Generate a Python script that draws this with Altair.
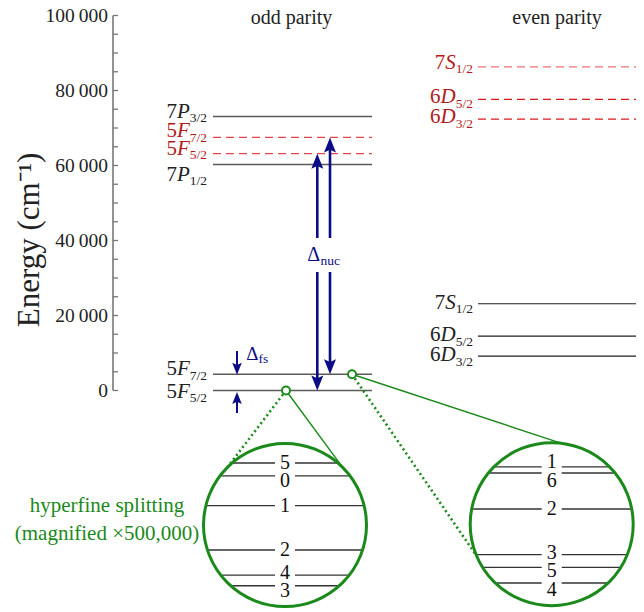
import math
import altair as alt
import pandas as pd

# ---------------- data (energies in cm^-1) ----------------
odd_terms = ["5F5/2", "5F7/2", "7P1/2", "7P3/2"]
odd_energy = [0, 4325, 60239, 73056]
even_terms = ["6D3/2", "6D5/2", "7S1/2"]
even_energy = [9193, 14486, 23131]
iso_odd_terms = ["5F5/2", "5F7/2"]
iso_odd_energy = [63150, 67475]
iso_even_terms = ["6D3/2", "6D5/2", "7S1/2"]
iso_even_energy = [72343, 77636, 86281]

tick_values = [i * 5000 for i in range(21)]
label_values = [0, 20000, 40000, 60000, 80000, 100000]
label_texts = ["0", "20\u2009000", "40\u2009000", "60\u2009000", "80\u2009000", "100\u2009000"]

# hyperfine sublevels: F quantum number and shift (MHz), drawn magnified x500,000
hf_low_F = ["5", "0", "1", "2", "4", "3"]
hf_low_MHz = [991, 784, 309, -400, -800, -971]
hf_up_F = ["1", "6", "2", "3", "5", "4"]
hf_up_MHz = [915, 819, 243, -488, -691, -940]
MAGNIFY = 500000
MHZ_PER_CM = 29979.2458

# ---------------- layout / style ----------------
PADTOP = 6
TOP = 8 + PADTOP
W, H = 628, 594
XDOM = [8, 636]
PX = 0.00375                               # px per cm^-1
YDOM = [(390.5 - TOP - H) / PX, (390.5 - TOP) / PX]


def v_at(py):
    return YDOM[1] - (py - TOP) / PX


def dpx(px):
    return px / PX


FONT = "Liberation Serif"
NAVY = "#0c0c86"
GREEN = "#1b8a1b"
ISO_LABEL = "#b31b1b"
FS, SUB = 21, 13.5

ODD_X = (213, 372, 207)     # line start, line end, label right edge
EVEN_X = (478, 636, 473)

xs = alt.Scale(domain=XDOM, nice=False, zero=False)
ys = alt.Scale(domain=YDOM, nice=False, zero=False)


def X(f):
    return alt.X(f, type="quantitative", scale=xs, axis=None)


def Y(f):
    return alt.Y(f, type="quantitative", scale=ys, axis=None)


def rules(df, **props):
    enc = dict(x=X("x"), y=Y("y"), color=alt.Color("c:N", scale=None))
    if "x2" in df:
        enc["x2"] = alt.X2("x2")
    if "y2" in df:
        enc["y2"] = alt.Y2("y2")
    return alt.Chart(df).mark_rule(**props).encode(**enc)


def texts(df, **props):
    return alt.Chart(df).mark_text(font=FONT, **props).encode(
        x=X("x"), y=Y("y"), text="t:N",
        color=alt.Color("c:N", scale=None),
        size=alt.Size("s:Q", scale=None))


layers = []

# ---- energy axis drawn from tick values ----
AX = 113
layers.append(rules(pd.DataFrame({"x": [AX], "y": [0], "y2": [100000], "c": ["#777777"]}), strokeWidth=1.6))
layers.append(rules(pd.DataFrame({"x": [AX] * len(tick_values), "x2": [AX + 5] * len(tick_values),
                                  "y": tick_values, "c": ["#777777"] * len(tick_values)}), strokeWidth=1.3))
layers.append(texts(pd.DataFrame({"x": [AX - 5] * 6, "y": label_values, "t": label_texts,
                                  "c": ["#222222"] * 6, "s": [19.5] * 6}), align="right", baseline="middle"))
layers.append(texts(pd.DataFrame({"x": [30], "y": [v_at(240)], "t": ["Energy  (cm\u207b\u00b9)"],
                                  "c": ["#222222"], "s": [31]}), align="center", baseline="middle", angle=270))
layers.append(texts(pd.DataFrame({"x": [291.5, 557], "y": [v_at(23.5)] * 2, "t": ["odd parity", "even parity"],
                                  "c": ["#222222"] * 2, "s": [20] * 2}), align="center", baseline="alphabetic"))

# ---- level lines ----
lv_solid = [{"x": ODD_X[0], "x2": ODD_X[1], "y": e, "c": "#5a5a5a"} for e in odd_energy]
layers.append(rules(pd.DataFrame(lv_solid), strokeWidth=1.5))
lv_even = [{"x": EVEN_X[0], "x2": EVEN_X[1], "y": e, "c": "#1e1e1e"} for e in even_energy]
layers.append(rules(pd.DataFrame(lv_even), strokeWidth=1.2))
lv_dash = [{"x": ODD_X[0], "x2": ODD_X[1], "y": e, "c": "#e8454a"} for e in iso_odd_energy]
lv_dash += [{"x": EVEN_X[0], "x2": EVEN_X[1], "y": e, "c": ("#f07272" if t.startswith("7S") else "#d91c1c")}
            for t, e in zip(iso_even_terms, iso_even_energy)]
layers.append(rules(pd.DataFrame(lv_dash), strokeWidth=1.3, strokeDash=[8, 5]))

# ---- level labels (digit + italic letter + subscript) ----
LETTER_W = {"P": 0.611, "F": 0.611, "S": 0.5, "D": 0.722}
label_dy = {("odd", "5F5/2"): 7, ("odd", "5F7/2"): 1, ("odd", "7P1/2"): 16, ("odd", "7P3/2"): 1,
            ("iso_odd", "5F5/2"): 1, ("iso_odd", "5F7/2"): 0,
            ("even", "6D3/2"): 5, ("even", "6D5/2"): 5, ("even", "7S1/2"): 5,
            ("iso_even", "6D3/2"): 4, ("iso_even", "6D5/2"): 4, ("iso_even", "7S1/2"): 2}
groups = [("odd", odd_terms, odd_energy, ODD_X[2], "#222222"),
          ("iso_odd", iso_odd_terms, iso_odd_energy, ODD_X[2], ISO_LABEL),
          ("even", even_terms, even_energy, EVEN_X[2], "#222222"),
          ("iso_even", iso_even_terms, iso_even_energy, EVEN_X[2], ISO_LABEL)]
dig, let, sub = [], [], []
sub_w = 1.278 * SUB
for g, terms, ens, xr, col in groups:
    for t, e in zip(terms, ens):
        dy = label_dy[(g, t)]
        lw = LETTER_W[t[1]] * FS
        dig.append({"x": xr - sub_w - lw, "y": e - dpx(dy), "t": t[0], "c": col, "s": FS})
        let.append({"x": xr - sub_w, "y": e - dpx(dy), "t": t[1], "c": col, "s": FS})
        sub.append({"x": xr, "y": e - dpx(dy + 4.5), "t": t[2:], "c": col, "s": SUB})
layers.append(texts(pd.DataFrame(dig), align="right", baseline="alphabetic"))
layers.append(texts(pd.DataFrame(let), align="right", baseline="alphabetic", fontStyle="italic"))
layers.append(texts(pd.DataFrame(sub), align="right", baseline="alphabetic"))

# ---- arrows ----
UP = "M0,0L0.4,1L0,0.82L-0.4,1Z"
DOWN = "M0,0L0.4,-1L0,-0.82L-0.4,-1Z"
NUC_X = [317.3, 330]
NUC_HEAD = 15
gap_lo, gap_hi = v_at(272), v_at(238)
shafts, heads_up, heads_dn = [], [], []
for x, lo, hi in zip(NUC_X, [odd_energy[0], odd_energy[1]], iso_odd_energy):
    shafts.append({"x": x, "y": lo + dpx(NUC_HEAD * 0.7), "y2": gap_lo, "c": NAVY})
    shafts.append({"x": x, "y": gap_hi, "y2": hi - dpx(NUC_HEAD * 0.7), "c": NAVY})
    heads_up.append({"x": x, "y": hi, "s": (2 * NUC_HEAD) ** 2})
    heads_dn.append({"x": x, "y": lo, "s": (2 * NUC_HEAD) ** 2})
layers.append(rules(pd.DataFrame(shafts), strokeWidth=2.6))
FS_X, FS_HEAD = 237, 12
fs_shafts = [{"x": FS_X, "y": v_at(351), "y2": odd_energy[1] + dpx(FS_HEAD * 0.7), "c": NAVY},
             {"x": FS_X, "y": v_at(413), "y2": odd_energy[0] - dpx(FS_HEAD * 0.7 + 1.5), "c": NAVY}]
layers.append(rules(pd.DataFrame(fs_shafts), strokeWidth=2))
heads_dn.append({"x": FS_X, "y": odd_energy[1] - dpx(0.5), "s": (2 * FS_HEAD) ** 2})
heads_up.append({"x": FS_X, "y": odd_energy[0] - dpx(1.5), "s": (2 * FS_HEAD) ** 2})
for shape, rows in [(UP, heads_up), (DOWN, heads_dn)]:
    layers.append(alt.Chart(pd.DataFrame(rows)).mark_point(
        shape=shape, filled=True, color=NAVY, opacity=1, strokeWidth=0).encode(
        x=X("x"), y=Y("y"), size=alt.Size("s:Q", scale=None)))
layers.append(texts(pd.DataFrame([{"x": 320, "y": v_at(260.5), "t": "\u0394", "c": NAVY, "s": 20},
                                  {"x": 258.5, "y": v_at(360), "t": "\u0394", "c": NAVY, "s": 19}]),
                    align="right", baseline="alphabetic"))
layers.append(texts(pd.DataFrame([{"x": 320.5, "y": v_at(264.5), "t": "nuc", "c": NAVY, "s": 13.5},
                                  {"x": 258.5, "y": v_at(363), "t": "fs", "c": NAVY, "s": 13.5}]),
                    align="left", baseline="alphabetic"))

# ---- hyperfine magnifier circles ----
R = 81.5
circles = [{"name": "low", "cx": 285, "cy": v_at(525), "F": hf_low_F, "MHz": hf_low_MHz,
            "ldy": [0, 4.7, 0, 0, -2, 5],
            "src": (286, odd_energy[0]), "ends": [(-135, "dot"), (-45, "solid")]},
           {"name": "up", "cx": 551.7, "cy": v_at(524.2), "F": hf_up_F, "MHz": hf_up_MHz,
            "ldy": [-5, 8, 0, -2, 4, 7],
            "src": (352, odd_energy[1]), "ends": [(-83, "solid"), (157, "dot")]}]
GAP = 10
chords, nums, conn_dot, conn_solid, pins, rings = [], [], [], [], [], []
for c in circles:
    rings.append({"x": c["cx"], "y": c["cy"]})
    for F, mhz, ldy in zip(c["F"], c["MHz"], c["ldy"]):
        dv = mhz / MHZ_PER_CM * MAGNIFY
        dy_px = dv * PX
        half = math.sqrt(R ** 2 - dy_px ** 2)
        y = c["cy"] + dv
        chords.append({"x": c["cx"] - half, "x2": c["cx"] - GAP, "y": y, "c": "#333333"})
        chords.append({"x": c["cx"] + GAP, "x2": c["cx"] + half, "y": y, "c": "#333333"})
        nums.append({"x": c["cx"], "y": y - dpx(ldy), "t": F, "c": "#111111", "s": 20})
    sx, sy = c["src"]
    pins.append({"x": sx, "y": sy})
    for ang, kind in c["ends"]:
        a = math.radians(ang)
        ex = c["cx"] + R * math.cos(a)
        ey = c["cy"] - dpx(R * math.sin(a))
        row = {"x": sx, "y": sy, "x2": ex, "y2": ey, "c": GREEN}
        (conn_dot if kind == "dot" else conn_solid).append(row)
layers.append(rules(pd.DataFrame(conn_dot), strokeWidth=2.6, strokeDash=[2, 3]))
layers.append(rules(pd.DataFrame(conn_solid), strokeWidth=1.4))
layers.append(rules(pd.DataFrame(chords), strokeWidth=1.3))
layers.append(alt.Chart(pd.DataFrame(rings)).mark_point(
    shape="circle", filled=False, size=(2 * R) ** 2, color=GREEN, strokeWidth=3, opacity=1).encode(
    x=X("x"), y=Y("y")))
layers.append(alt.Chart(pd.DataFrame(pins)).mark_point(
    shape="circle", size=64, fill="white", stroke=GREEN, strokeWidth=2, opacity=1, fillOpacity=1,
    filled=True).encode(x=X("x"), y=Y("y")))
layers.append(texts(pd.DataFrame(nums), align="center", baseline="middle"))
layers.append(texts(pd.DataFrame([{"x": 107, "y": v_at(512), "t": "hyperfine splitting", "c": GREEN, "s": 21},
                                  {"x": 107, "y": v_at(540), "t": "(magnified \u00d7500,000)", "c": GREEN, "s": 21}]),
                    align="center", baseline="alphabetic"))

chart = alt.layer(*layers).properties(
    width=W, height=H, padding={"left": 0, "top": PADTOP, "right": 0, "bottom": 0}, autosize="none"
).configure_view(stroke=None)
chart.save("out.html", embed_options={"renderer": "svg", "actions": False})
